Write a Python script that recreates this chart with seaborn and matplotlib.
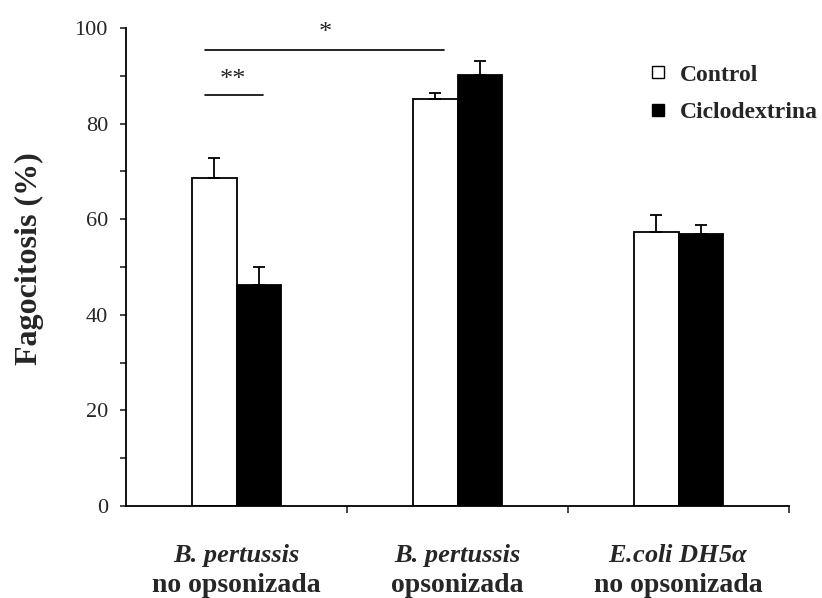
import matplotlib
matplotlib.use("Agg")
import matplotlib.pyplot as plt
from matplotlib.lines import Line2D
import seaborn as sns
import pandas as pd
import numpy as np

# ---- data ----
groups = ["g1", "g2", "g3"]
group_line1 = ["B. pertussis", "B. pertussis", r"E.coli DH5$\alpha$"]
group_line2 = ["no opsonizada", "opsonizada", "no opsonizada"]
conditions = ["Control", "Ciclodextrina"]
control_vals = [68.6, 85.2, 57.3]
ciclo_vals = [46.2, 90.1, 56.8]
control_err = [4.3, 1.1, 3.6]
ciclo_err = [3.9, 3.1, 2.0]
y_ticks = [0, 20, 40, 60, 80, 100]

df = pd.DataFrame({
    "group": groups * 2,
    "cond": [conditions[0]] * 3 + [conditions[1]] * 3,
    "value": control_vals + ciclo_vals,
    "err": control_err + ciclo_err,
})

sns.set_style("white")
plt.rcParams["font.family"] = ["Liberation Serif", "DejaVu Serif"]
plt.rcParams["mathtext.fontset"] = "custom"
plt.rcParams["mathtext.it"] = "Liberation Serif:italic:bold"
plt.rcParams["mathtext.rm"] = "Liberation Serif:bold"

fig = plt.figure(figsize=(8.22, 5.98), dpi=100)
ax = fig.add_axes([126 / 822, 1 - 506 / 598, (789 - 126) / 822, (506 - 28) / 598])

sns.barplot(data=df, x="group", y="value", hue="cond", order=groups,
            hue_order=conditions, palette=["white", "black"], width=0.4,
            edgecolor="black", linewidth=1.3, errorbar=None, legend=False, ax=ax)

# error bars (upper only)
for cont, cond in zip(ax.containers, conditions):
    sub = df[df["cond"] == cond].set_index("group").loc[groups]
    xs = [p.get_x() + p.get_width() / 2 for p in cont.patches]
    ax.errorbar(xs, sub["value"].values,
                yerr=[np.zeros(len(xs)), sub["err"].values],
                fmt="none", ecolor="black", elinewidth=1.3, capsize=4.3, capthick=1.3,
                zorder=3)

ax.set_xlim(-0.5, 2.5)
ax.set_ylim(0, 100)
ax.set_yticks(y_ticks)
ax.set_yticks([10, 30, 50, 70, 90], minor=True)
ax.set_yticklabels([str(t) for t in y_ticks], fontsize=16)
ax.tick_params(axis="y", which="both", direction="out", length=4, width=1.2,
               left=True, pad=9)
ax.set_xticks([0.5, 1.5, 2.5])
ax.set_xticklabels([])
ax.tick_params(axis="x", which="both", direction="out", length=5, width=1.2,
               bottom=True)
ax.set_xlabel("")
ax.set_ylabel("Fagocitosis (%)", fontsize=23, fontweight="bold")
ax.yaxis.set_label_coords(-0.145, 0.517)
ax.yaxis.label.set_va("center")

for s in ["top", "right"]:
    ax.spines[s].set_visible(False)
for s in ["left", "bottom"]:
    ax.spines[s].set_linewidth(1.3)
    ax.spines[s].set_color("black")

# category labels (two lines, mixed styles)
trans = matplotlib.transforms.blended_transform_factory(ax.transData, ax.transAxes)
for i, (l1, l2) in enumerate(zip(group_line1, group_line2)):
    ax.text(i, -0.117, l1, transform=trans, ha="center", va="baseline",
            fontsize=19, fontweight="bold", fontstyle="italic")
    ax.text(i, -0.180, l2, transform=trans, ha="center", va="baseline",
            fontsize=20, fontweight="bold")

# significance annotations
ax.plot([-0.143, 0.939], [95.3, 95.3], color="black", lw=1.2, clip_on=False)
ax.text(0.40, 99.0, "*", ha="center", va="center", fontsize=19, clip_on=False)
ax.plot([-0.143, 0.119], [85.9, 85.9], color="black", lw=1.2, clip_on=False)
ax.text(-0.015, 89.2, "**", ha="center", va="center", fontsize=19, clip_on=False)

# legend
handles = [
    Line2D([], [], marker="s", linestyle="none", markersize=8.5,
           markerfacecolor="white", markeredgecolor="black", markeredgewidth=1.0),
    Line2D([], [], marker="s", linestyle="none", markersize=8.5,
           markerfacecolor="black", markeredgecolor="black"),
]
ax.legend(handles, conditions, loc="upper left",
          bbox_to_anchor=((651 - 126) / 663, 1 - (64 - 28) / 478),
          frameon=False, handlelength=0.6, handletextpad=0.64,
          labelspacing=0.67, borderaxespad=0, borderpad=0,
          prop={"weight": "bold", "size": 17, "family": "Liberation Serif"})

fig.savefig("out.png", dpi=100)
